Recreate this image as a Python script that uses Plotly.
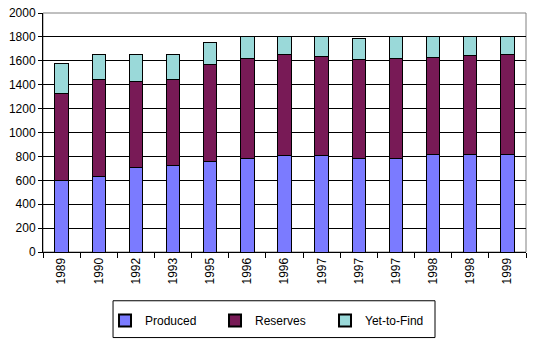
import plotly.graph_objects as go

labels = ["1989", "1990", "1992", "1993", "1995", "1996", "1996", "1997", "1997", "1997", "1998", "1998", "1999"]
produced = [600, 630, 705, 720, 760, 785, 805, 810, 785, 785, 820, 820, 820]
reserves_top = [1330, 1440, 1430, 1445, 1565, 1620, 1655, 1635, 1610, 1620, 1625, 1645, 1655]
totals = [1575, 1650, 1650, 1650, 1750, 1800, 1800, 1800, 1790, 1800, 1800, 1800, 1800]

reserves = [r - p for r, p in zip(reserves_top, produced)]
yet_to_find = [t - r for t, r in zip(totals, reserves_top)]
xpos = list(range(len(labels)))

font = "Liberation Sans, Arial, sans-serif"
line = dict(color="black", width=1)

fig = go.Figure()
fig.add_bar(x=xpos, y=produced, name="Produced", marker=dict(color="#7b7bff", line=line))
fig.add_bar(x=xpos, y=reserves, name="Reserves", marker=dict(color="#781a56", line=line))
fig.add_bar(x=xpos, y=yet_to_find, name="Yet-to-Find", marker=dict(color="#9ad9d9", line=line))

fig.update_layout(
    barmode="stack",
    bargap=0.64,
    width=542, height=346,
    margin=dict(l=43, r=16, t=13, b=93),
    paper_bgcolor="white", plot_bgcolor="white",
    font=dict(family=font, size=12, color="black"),
    showlegend=True,
    legend=dict(
        orientation="h", x=0.47, xanchor="center", y=-0.281, yanchor="middle",
        borderwidth=0, bgcolor="rgba(0,0,0,0)",
        entrywidth=65, font=dict(size=12, family=font),
        traceorder="normal", itemsizing="constant",
    ),
    xaxis=dict(
        range=[-0.5, len(labels) - 0.5],
        tickmode="array", tickvals=xpos, ticktext=labels,
        tickangle=-90, ticks="", showgrid=False,
        showline=True, linecolor="black", linewidth=1,
        minor=dict(ticks="outside", tick0=-0.5, dtick=1, ticklen=5, tickcolor="black", showgrid=False),
        tickfont=dict(size=12, family=font),
        zeroline=False, automargin=False,
    ),
    yaxis=dict(
        range=[0, 2000], dtick=200, tick0=0,
        showgrid=True, gridcolor="black", gridwidth=1,
        showline=True, linecolor="black", linewidth=1,
        ticks="outside", ticklen=4, tickcolor="black",
        tickfont=dict(size=12, family=font),
        zeroline=False, automargin=False,
    ),
    shapes=[
        dict(type="rect", xref="paper", yref="paper", x0=0, x1=1, y0=0, y1=1,
             line=dict(color="#808080", width=1), layer="below"),
        dict(type="rect", xref="paper", yref="paper", x0=0.145, x1=0.8116, y0=-0.204, y1=-0.358,
             line=dict(color="black", width=1), layer="above"),
    ],
)

fig.write_html("out.html")
